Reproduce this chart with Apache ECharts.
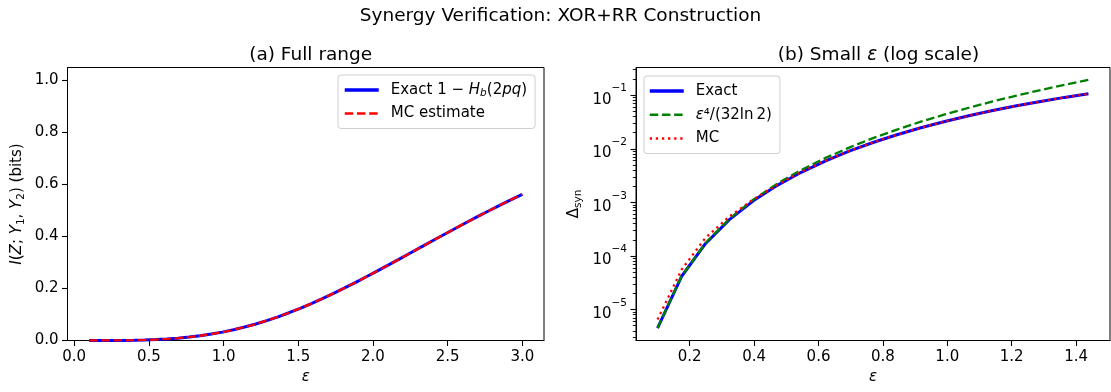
<!DOCTYPE html>
<html>
<head>
<meta charset="utf-8">
<script src="https://cdn.jsdelivr.net/npm/echarts@6/dist/echarts.min.js"></script>
<style>html,body{margin:0;padding:0;background:#fff}#c{width:1111px;height:392px}</style>
</head>
<body>
<div id="c"></div>
<script>
// epsilon grid
const eps = [0.1, 0.1744, 0.2487, 0.3231, 0.3974, 0.4718, 0.5462, 0.6205, 0.6949, 0.7692,
  0.8436, 0.9179, 0.9923, 1.0667, 1.141, 1.2154, 1.2897, 1.3641, 1.4385, 1.5128,
  1.5872, 1.6615, 1.7359, 1.8103, 1.8846, 1.959, 2.0333, 2.1077, 2.1821, 2.2564,
  2.3308, 2.4051, 2.4795, 2.5538, 2.6282, 2.7026, 2.7769, 2.8513, 2.9256, 3.0];
// Exact 1 - H_b(2pq)
const exact = [4.493e-6, 4.125e-5, 1.690e-4, 4.746e-4, 1.0679e-3, 2.0770e-3, 3.6409e-3, 5.9034e-3, 9.0067e-3, 0.013084,
  0.018257, 0.024630, 0.032284, 0.041280, 0.051653, 0.063415, 0.076557, 0.091042, 0.106821, 0.123821,
  0.141957, 0.161138, 0.181249, 0.202188, 0.223833, 0.246064, 0.268773, 0.291839, 0.315145, 0.338598,
  0.362111, 0.385534, 0.408820, 0.431912, 0.454698, 0.477139, 0.499167, 0.520742, 0.541798, 0.562355];
// Monte-Carlo estimate
const mc = [6.5e-6, 5.5e-5, 2.16e-4, 5.45e-4, 1.13e-3, 2.12e-3, 3.69e-3, 5.95e-3, 9.04e-3, 0.01311,
  0.01828, 0.02464, 0.03229, 0.04127, 0.05167, 0.06340, 0.07657, 0.09104, 0.10680, 0.12395,
  0.14182, 0.16127, 0.18112, 0.20231, 0.22371, 0.24618, 0.26866, 0.29201, 0.31502, 0.33873,
  0.36198, 0.38567, 0.40869, 0.43205, 0.45461, 0.47725, 0.49903, 0.52089, 0.54172, 0.56251];
// small-epsilon approximation eps^4/(32 ln 2), for eps <= 1.5
const approx = [4.508e-6, 4.167e-5, 1.7253e-4, 4.912e-4, 1.1248e-3, 2.2338e-3, 4.0113e-3, 6.6839e-3, 0.010511, 0.015785,
  0.022832, 0.032011, 0.043713, 0.058363, 0.076420, 0.098374, 0.124750, 0.156104, 0.193027];
const nSmall = 19;
const xTicksA = [0, 0.5, 1.0, 1.5, 2.0, 2.5, 3.0];
const yTicksA = [0, 0.2, 0.4, 0.6, 0.8, 1.0];
const xTicksB = [0.2, 0.4, 0.6, 0.8, 1.0, 1.2, 1.4];
const yTicksB = [1e-5, 1e-4, 1e-3, 1e-2, 1e-1];

const FONT = 'DejaVu Sans';

const minorB = [];
for (let k = -6; k <= -1; k++) for (let m = 2; m <= 9; m++) {
  const v = m * Math.pow(10, k);
  if (v > 2.635e-6 && v < 0.3291) minorB.push(v);
}

const pairs = (xs, ys, n) => ys.slice(0, n).map((y, i) => [xs[i], y]);

const chart = echarts.init(document.getElementById('c'), null, {renderer: 'canvas'});
const axisFont = {fontFamily: FONT, fontSize: 15, color: '#000'};
const richCommon = {
  i: {fontFamily: FONT, fontSize: 15, fontStyle: 'italic', color: '#000', lineHeight: 18},
  n: {fontFamily: FONT, fontSize: 15, color: '#000', lineHeight: 18},
  sub: {fontFamily: FONT, fontSize: 10.5, fontStyle: 'italic', color: '#000', lineHeight: 18, verticalAlign: 'bottom'},
  subn: {fontFamily: FONT, fontSize: 10.5, color: '#000', lineHeight: 18, verticalAlign: 'bottom'}
};
const legendCommon = {
  orient: 'vertical', itemWidth: 34, itemHeight: 14,
  backgroundColor: '#fff', borderColor: '#d0d0d0', borderWidth: 1, borderRadius: 3,
  itemStyle: {opacity: 0, borderWidth: 0},
  textStyle: {fontFamily: FONT, fontSize: 15, color: '#000', lineHeight: 18, padding: [0, 0, 0, 7], rich: richCommon}
};

const option = {
  animation: false,
  backgroundColor: '#fff',
  title: [
    {text: 'Synergy Verification: XOR+RR Construction', left: 555.5, top: 2, textAlign: 'center',
      textStyle: {fontFamily: FONT, fontSize: 18.5, fontWeight: 'normal', color: '#000'}},
    {text: '(a) Full range', left: 305.7, top: 41, textAlign: 'center',
      textStyle: {fontFamily: FONT, fontSize: 18.5, fontWeight: 'normal', color: '#000'}},
    {text: '(b) Small {e|ε} (log scale)', left: 873.5, top: 41, textAlign: 'center',
      textStyle: {fontFamily: FONT, fontSize: 18.5, fontWeight: 'normal', color: '#000',
        rich: {e: {fontFamily: FONT, fontSize: 18.5, fontStyle: 'italic', color: '#000'}}}}
  ],
  legend: [
    Object.assign({data: [
        {name: 'Exact', lineStyle: {width: 3.5}},
        {name: 'MC estimate', lineStyle: {width: 2.5}}], left: 338, top: 75,
      padding: [6, 8, 6, 5], itemGap: 5.5,
      formatter: name => name === 'Exact' ? '{n|Exact 1 }{n|\u2212 }{i|H}{sub|b}{n|(2}{i|pq}{n|)}' : '{n|MC estimate}'
    }, legendCommon),
    Object.assign({data: [
        {name: 'Exact (b)', lineStyle: {width: 3.5}},
        {name: 'approx', lineStyle: {width: 2.5}},
        {name: 'MC (b)', lineStyle: {width: 2.5}}], left: 644, top: 76,
      padding: [6, 8, 6, 4], itemGap: 5.8,
      formatter: name => name === 'Exact (b)' ? '{n|Exact}' : (name === 'approx' ? '{i|ε}{n|\u2074/(32ln\u20092)}' : '{n|MC}')
    }, legendCommon)
  ],
  grid: [
    {left: 67.5, top: 67.5, width: 476.5, height: 273, show: true, borderColor: '#000', borderWidth: 1, backgroundColor: 'transparent'},
    {left: 636, top: 67.5, width: 474, height: 273, show: true, borderColor: '#000', borderWidth: 1, backgroundColor: 'transparent'}
  ],
  xAxis: [
    {gridIndex: 0, type: 'value', min: -0.045, max: 3.145,
      name: 'ε', nameLocation: 'middle', nameGap: 27,
      nameTextStyle: {fontFamily: FONT, fontSize: 15, fontStyle: 'italic', color: '#000'},
      axisLine: {show: true, onZero: false, lineStyle: {color: '#000', width: 1}},
      axisTick: {show: true, length: 5.5, lineStyle: {color: '#000', width: 1.1}, customValues: xTicksA},
      axisLabel: Object.assign({margin: 9, customValues: xTicksA, formatter: v => v.toFixed(1)}, axisFont),
      splitLine: {show: false}},
    {gridIndex: 1, type: 'value', min: 0.033077, max: 1.505385,
      name: 'ε', nameLocation: 'middle', nameGap: 27,
      nameTextStyle: {fontFamily: FONT, fontSize: 15, fontStyle: 'italic', color: '#000'},
      axisLine: {show: true, onZero: false, lineStyle: {color: '#000', width: 1}},
      axisTick: {show: true, length: 5.5, lineStyle: {color: '#000', width: 1.1}, customValues: xTicksB},
      axisLabel: Object.assign({margin: 9, customValues: xTicksB, formatter: v => v.toFixed(1)}, axisFont),
      splitLine: {show: false}}
  ],
  yAxis: [
    {gridIndex: 0, type: 'value', min: 0, max: 1.05,
      name: '{i|I}{n|(}{i|Z}{n|; }{i|Y}{subn|1}{n|, }{i|Y}{subn|2}{n|) (bits)}', nameLocation: 'middle', nameGap: 41, nameRotate: 90,
      nameTextStyle: {fontFamily: FONT, fontSize: 15, color: '#000', rich: richCommon},
      axisLine: {show: true, onZero: false, lineStyle: {color: '#000', width: 1}},
      axisTick: {show: true, length: 5.5, lineStyle: {color: '#000', width: 1.1}, customValues: yTicksA},
      axisLabel: Object.assign({margin: 9, customValues: yTicksA, formatter: v => v.toFixed(1)}, axisFont),
      splitLine: {show: false}},
    {gridIndex: 1, type: 'log', logBase: 10, min: 2.635e-6, max: 0.3291, position: 'left',
      name: '{d|Δ}{s|syn}', nameLocation: 'middle', nameGap: 52, nameRotate: 90,
      nameTextStyle: {fontFamily: FONT, fontSize: 15, color: '#000',
        rich: {d: {fontFamily: FONT, fontSize: 15, color: '#000', lineHeight: 20},
               s: {fontFamily: FONT, fontSize: 10.5, color: '#000', lineHeight: 20, verticalAlign: 'bottom'}}},
      axisLine: {show: true, onZero: false, lineStyle: {color: '#000', width: 1}},
      axisTick: {show: true, length: 5.5, lineStyle: {color: '#000', width: 1.1}, customValues: yTicksB},
      axisLabel: {margin: 9, customValues: yTicksB, color: '#000', fontFamily: FONT, fontSize: 15,
        formatter: v => '{b|10}{s|\u2212' + Math.abs(Math.round(Math.log10(v))) + '}',
        rich: {b: {fontFamily: FONT, fontSize: 15, color: '#000', lineHeight: 24, verticalAlign: 'bottom'},
               s: {fontFamily: FONT, fontSize: 10.5, color: '#000', lineHeight: 24, verticalAlign: 'top'}}},
      splitLine: {show: false}},
    {gridIndex: 1, type: 'log', logBase: 10, min: 2.635e-6, max: 0.3291, position: 'left', offset: 0,
      axisLine: {show: false},
      axisTick: {show: true, length: 3.2, lineStyle: {color: '#000', width: 0.9}, customValues: minorB},
      axisLabel: {show: false},
      splitLine: {show: false}}
  ],
  series: [
    {name: 'Exact', type: 'line', xAxisIndex: 0, yAxisIndex: 0, data: pairs(eps, exact, eps.length),
      showSymbol: false, symbol: 'none', symbolSize: 0, lineStyle: {color: '#0000ff', width: 3}, itemStyle: {color: '#0000ff'}, z: 2},
    {name: 'MC estimate', type: 'line', xAxisIndex: 0, yAxisIndex: 0, data: pairs(eps, mc, eps.length),
      showSymbol: false, symbol: 'none', symbolSize: 0, lineStyle: {color: '#ff0000', width: 2.3, type: [8.5, 3.7]}, itemStyle: {color: '#ff0000'}, z: 3},
    {name: 'Exact (b)', type: 'line', xAxisIndex: 1, yAxisIndex: 1, data: pairs(eps, exact, nSmall),
      showSymbol: false, symbol: 'none', symbolSize: 0, lineStyle: {color: '#0000ff', width: 3}, itemStyle: {color: '#0000ff'}, z: 2},
    {name: 'approx', type: 'line', xAxisIndex: 1, yAxisIndex: 1, data: pairs(eps, approx, nSmall),
      showSymbol: false, symbol: 'none', symbolSize: 0, lineStyle: {color: '#008000', width: 2.3, type: [8.5, 3.7]}, itemStyle: {color: '#008000'}, z: 3},
    {name: 'MC (b)', type: 'line', xAxisIndex: 1, yAxisIndex: 1, data: pairs(eps, mc, nSmall),
      showSymbol: false, symbol: 'none', symbolSize: 0, lineStyle: {color: '#ff0000', width: 2.3, type: [2.3, 3.8]}, itemStyle: {color: '#ff0000'}, z: 4}
  ]
};
chart.setOption(option);
</script>
</body>
</html>
